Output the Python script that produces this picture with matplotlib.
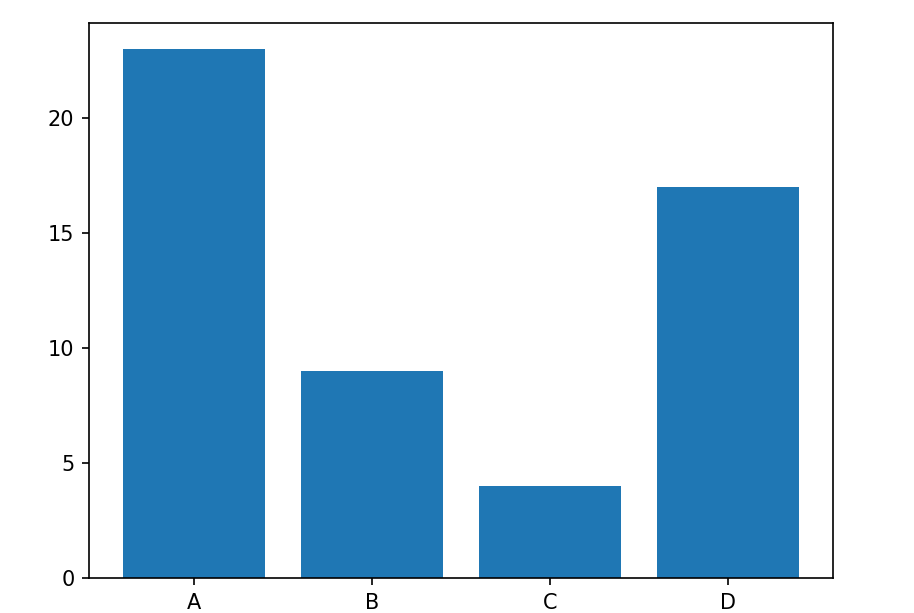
import matplotlib
matplotlib.use("Agg")
import matplotlib.pyplot as plt

categories = ["A", "B", "C", "D"]
values = [23, 9, 4, 17]

fig = plt.figure(figsize=(914 / 150, 613 / 150), dpi=150)
ax = fig.add_subplot(111)
fig.subplots_adjust(left=89 / 914, right=833 / 914, top=1 - 23 / 613, bottom=1 - 578 / 613)
ax.bar(categories, values)
fig.savefig("out.png", dpi=150)
